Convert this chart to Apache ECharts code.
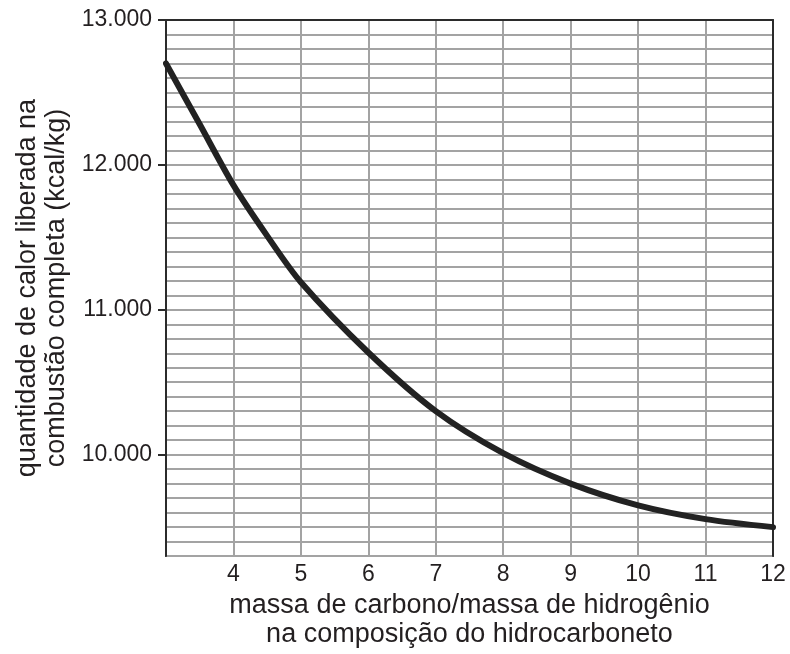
<!DOCTYPE html>
<html>
<head>
<meta charset="utf-8">
<script src="https://cdn.jsdelivr.net/npm/echarts@6/dist/echarts.min.js"></script>
<style>
  html, body { margin: 0; padding: 0; background: #fff; }
  #chart { width: 790px; height: 654px; }
</style>
</head>
<body>
<div id="chart"></div>
<script>
// razão massa C / massa H
const massRatio = [3, 3.5, 4, 4.5, 5, 6, 7, 8, 9, 10, 11, 12]
// calor liberado (kcal/kg)
const heatReleased = [12700, 12280, 11860, 11510, 11190, 10705, 10300, 10010, 9800, 9650, 9555, 9500]
const yTickValues = [10000, 11000, 12000, 13000]
const xTickValues = [4, 5, 6, 7, 8, 9, 10, 11, 12]

const textColor = '#231f20'
const fontFamily = "'Liberation Sans', Arial, sans-serif"
const frameLine = { show: true, lineStyle: { color: '#2b2b2b', width: 2 } }
const gridLine = { show: true, lineStyle: { color: '#a3a3a3', width: 2 } }

const chart = echarts.init(document.getElementById('chart'), null, { renderer: 'canvas' })

chart.setOption({
  animation: false,
  backgroundColor: '#fff',
  grid: {
    left: 166,
    right: 17,
    top: 20,
    bottom: 88
  },
  xAxis: [
    {
      type: 'value',
      min: 3,
      max: 12,
      interval: 1,
      name: 'massa de carbono/massa de hidrogênio\nna composição do hidrocarboneto',
      nameLocation: 'middle',
      nameGap: 30,
      nameTextStyle: { color: textColor, fontSize: 27, fontFamily: fontFamily, lineHeight: 29 },
      axisLine: frameLine,
      axisTick: { show: false },
      axisLabel: {
        customValues: xTickValues,
        color: textColor,
        fontSize: 23,
        fontFamily: fontFamily,
        margin: 7
      },
      splitLine: gridLine
    },
    {
      // top edge of the frame
      type: 'value',
      position: 'top',
      min: 3,
      max: 12,
      axisLine: frameLine,
      axisTick: { show: false },
      axisLabel: { show: false },
      splitLine: { show: false },
      z: 4
    }
  ],
  yAxis: [
    {
      type: 'value',
      min: 9300,
      max: 13000,
      name: 'quantidade de calor liberada na\ncombustão completa (kcal/kg)',
      nameLocation: 'middle',
      nameGap: 83,
      nameTextStyle: { color: textColor, fontSize: 27, fontFamily: fontFamily, lineHeight: 29 },
      axisLine: frameLine,
      axisTick: {
        show: true,
        customValues: yTickValues,
        length: 8,
        lineStyle: { color: '#2b2b2b', width: 2 }
      },
      axisLabel: {
        customValues: yTickValues,
        formatter: function (v) {
          return (v / 1000) + '.000'
        },
        color: textColor,
        fontSize: 23,
        fontFamily: fontFamily,
        margin: 14
      },
      splitLine: { show: false },
      z: 4
    },
    {
      // fine horizontal grid every 100 kcal/kg + right edge of the frame
      type: 'value',
      min: 9300,
      max: 13000,
      interval: 100,
      position: 'right',
      axisLine: frameLine,
      axisTick: { show: false },
      axisLabel: { show: false },
      splitLine: gridLine,
      z: 3
    }
  ],
  series: [
    {
      type: 'line',
      xAxisIndex: 0,
      yAxisIndex: 0,
      data: massRatio.map((x, i) => [x, heatReleased[i]]),
      smooth: 0.3,
      showSymbol: false,
      lineStyle: { color: '#222', width: 6, cap: 'round' },
      z: 5
    }
  ]
})
</script>
</body>
</html>
